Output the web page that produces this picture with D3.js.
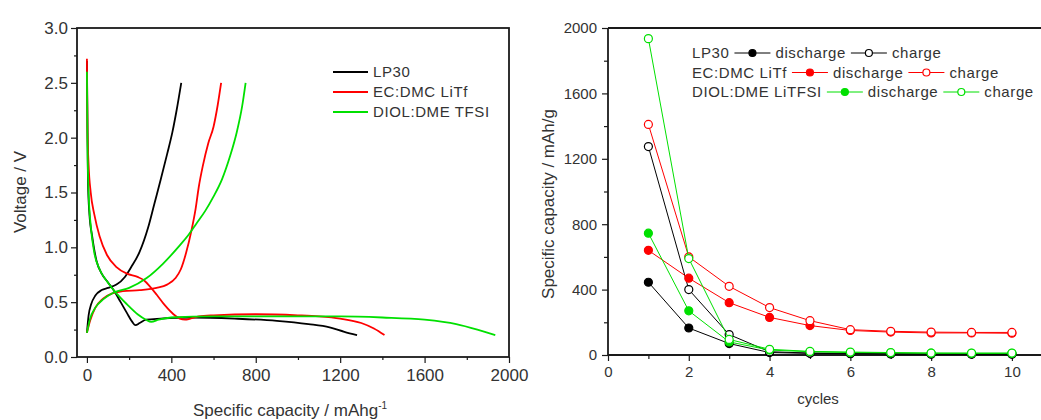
<!DOCTYPE html>
<html>
<head>
<meta charset="utf-8">
<script src="https://cdn.jsdelivr.net/npm/d3@7/dist/d3.min.js"></script>
<style>
body { margin: 0; background: #fff; }
text { font-family: "Liberation Sans", Arial, sans-serif; fill: #333; }
</style>
</head>
<body>
<svg id="chart" width="1041" height="420"></svg>
<script>
// left panel: voltage profiles [capacity mAh/g, voltage V]
var lp30Discharge = [[0,2.70],[2,2.2],[5,1.6],[12,1.3],[25,1.1],[45,0.88],[70,0.76],[100,0.68],[130,0.60],[160,0.50],[190,0.40],[215,0.32],[230,0.29],[250,0.31],[280,0.34],[350,0.35],[500,0.36],[700,0.35],[900,0.33],[1050,0.30],[1150,0.27],[1220,0.23],[1280,0.20]];
var lp30Charge = [[0,0.22],[8,0.38],[20,0.48],[40,0.56],[70,0.61],[100,0.63],[140,0.66],[180,0.73],[210,0.82],[250,0.96],[290,1.18],[320,1.40],[350,1.62],[380,1.85],[405,2.05],[425,2.25],[447,2.50]];
var ecDischarge = [[0,2.72],[3,2.05],[8,1.75],[18,1.50],[35,1.30],[60,1.10],[95,0.93],[140,0.82],[190,0.76],[240,0.73],[270,0.70],[300,0.64],[330,0.57],[370,0.47],[410,0.39],[440,0.35],[465,0.34],[490,0.35],[530,0.37],[600,0.38],[800,0.39],[1000,0.38],[1100,0.37],[1200,0.35],[1300,0.31],[1360,0.26],[1410,0.20]];
var ecCharge = [[0,0.22],[15,0.33],[40,0.45],[75,0.53],[120,0.58],[170,0.60],[250,0.61],[330,0.63],[380,0.66],[420,0.72],[445,0.80],[470,0.95],[495,1.15],[515,1.35],[530,1.55],[550,1.75],[575,1.95],[600,2.10],[620,2.30],[636,2.50]];
var diolDischarge = [[0,2.60],[3,1.90],[8,1.50],[18,1.20],[35,0.95],[60,0.80],[95,0.69],[140,0.58],[190,0.48],[240,0.39],[280,0.34],[305,0.32],[340,0.34],[400,0.36],[600,0.37],[1000,0.37],[1200,0.37],[1400,0.36],[1600,0.34],[1750,0.30],[1850,0.25],[1935,0.20]];
var diolCharge = [[0,0.22],[15,0.35],[40,0.45],[80,0.53],[130,0.59],[200,0.63],[283,0.72],[360,0.85],[441,1.02],[480,1.11],[520,1.22],[560,1.33],[599,1.46],[640,1.62],[678,1.83],[710,2.05],[735,2.28],[752,2.50]];

var leftNames = ["LP30", "EC:DMC LiTf", "DIOL:DME TFSI"];
var seriesColors = ["#000000", "#ff0000", "#00e000"];
var voltTicks = [0, 0.5, 1.0, 1.5, 2.0, 2.5, 3.0];
var capTicks = [0, 400, 800, 1200, 1600, 2000];

// right panel: capacity vs cycle
var cycles = [1, 2, 3, 4, 5, 6, 7, 8, 9, 10];
var lp30CycDischarge = [445, 165, 70, 15, 10, 8, 6, 5, 5, 5];
var lp30CycCharge = [1275, 400, 125, 20, 12, 10, 8, 7, 7, 7];
var ecCycDischarge = [640, 470, 320, 230, 180, 150, 140, 135, 135, 133];
var ecCycCharge = [1410, 600, 420, 290, 210, 155, 145, 140, 138, 138];
var diolCycDischarge = [745, 270, 80, 30, 20, 15, 13, 11, 10, 10];
var diolCycCharge = [1935, 590, 95, 35, 22, 18, 15, 12, 12, 12];
var rightNames = ["LP30", "EC:DMC LiTf", "DIOL:DME LiTFSI"];
var cycTicks = [0, 2, 4, 6, 8, 10];
var specTicks = [0, 400, 800, 1200, 1600, 2000];

var svg = d3.select("#chart");
var frameColor = "#1a1a1a";

// ---------- left panel ----------
var xL = d3.scaleLinear().domain([-47, 2000]).range([77, 509]);
var yL = d3.scaleLinear().domain([0, 3]).range([357, 28]);

var gL = svg.append("g");

function styleAxis(g, size) {
    g.select(".domain").remove();
    g.selectAll("line").attr("stroke", frameColor).attr("stroke-width", 1.2);
    g.selectAll("text").style("font-size", size + "px").attr("fill", "#333");
}

// minor ticks
gL.append("g").attr("transform", "translate(0,357)")
    .call(d3.axisBottom(xL).tickValues(d3.range(200, 2000, 400)).tickSize(3).tickFormat(""))
    .call(styleAxis, 16);
gL.append("g").attr("transform", "translate(77,0)")
    .call(d3.axisLeft(yL).tickValues(d3.range(0.25, 3, 0.5)).tickSize(3).tickFormat(""))
    .call(styleAxis, 16);
gL.append("g").attr("transform", "translate(0,357)")
    .call(d3.axisBottom(xL).tickValues(capTicks).tickSize(6).tickPadding(6).tickFormat(d3.format("d")))
    .call(styleAxis, 17);
gL.append("g").attr("transform", "translate(77,0)")
    .call(d3.axisLeft(yL).tickValues(voltTicks).tickSize(6).tickPadding(3).tickFormat(d3.format(".1f")))
    .call(styleAxis, 17);

var lineL = d3.line().x(function(d) { return xL(d[0]); }).y(function(d) { return yL(d[1]); })
    .curve(d3.curveMonotoneX);

var leftCurves = [
    [lp30Discharge, lp30Charge],
    [ecDischarge, ecCharge],
    [diolDischarge, diolCharge]
];
leftCurves.forEach(function(pair, i) {
    pair.forEach(function(pts) {
        gL.append("path").datum(pts).attr("d", lineL)
            .attr("fill", "none").attr("stroke", seriesColors[i]).attr("stroke-width", 1.8);
    });
});

gL.append("rect").attr("x", 77).attr("y", 28).attr("width", 432).attr("height", 329)
    .attr("fill", "none").attr("stroke", frameColor).attr("stroke-width", 1.8);

// left legend
leftNames.forEach(function(name, i) {
    var ly = 72 + i * 20;
    gL.append("line").attr("x1", 333).attr("x2", 368).attr("y1", ly).attr("y2", ly)
        .attr("stroke", seriesColors[i]).attr("stroke-width", 1.8);
    gL.append("text").attr("x", 373).attr("y", ly + 5).text(name)
        .style("font-size", "15px").style("letter-spacing", "0.6px");
});

gL.append("text").attr("transform", "translate(26,192) rotate(-90)")
    .attr("text-anchor", "middle").style("font-size", "17px").text("Voltage / V");
var xt = gL.append("text").attr("x", 290).attr("y", 416)
    .attr("text-anchor", "middle").style("font-size", "17px");
xt.append("tspan").text("Specific capacity / mAhg");
xt.append("tspan").attr("dy", -7).style("font-size", "10px").text("-1");

// ---------- right panel ----------
var xR = d3.scaleLinear().domain([0, 10.72]).range([608, 1041]);
var yR = d3.scaleLinear().domain([0, 2000]).range([355, 28]);
var gR = svg.append("g");

gR.append("g").attr("transform", "translate(0,355)")
    .call(d3.axisBottom(xR).tickValues(d3.range(1, 11, 2)).tickSize(4).tickFormat(""))
    .call(styleAxis, 15);
gR.append("g").attr("transform", "translate(608,0)")
    .call(d3.axisLeft(yR).tickValues(d3.range(200, 2000, 400)).tickSize(4).tickFormat(""))
    .call(styleAxis, 15);
gR.append("g").attr("transform", "translate(0,355)")
    .call(d3.axisBottom(xR).tickValues(cycTicks).tickSize(6).tickPadding(5).tickFormat(d3.format("d")))
    .call(styleAxis, 15);
gR.append("g").attr("transform", "translate(608,0)")
    .call(d3.axisLeft(yR).tickValues(specTicks).tickSize(6).tickPadding(5).tickFormat(d3.format("d")))
    .call(styleAxis, 15);

gR.append("line").attr("x1", 608).attr("x2", 1041).attr("y1", 28).attr("y2", 28)
    .attr("stroke", frameColor).attr("stroke-width", 1.8);
gR.append("line").attr("x1", 608).attr("x2", 608).attr("y1", 28).attr("y2", 355)
    .attr("stroke", frameColor).attr("stroke-width", 1.8);
gR.append("line").attr("x1", 608).attr("x2", 1041).attr("y1", 355).attr("y2", 355)
    .attr("stroke", frameColor).attr("stroke-width", 1.8);

var cycSeries = [
    [lp30CycDischarge, lp30CycCharge],
    [ecCycDischarge, ecCycCharge],
    [diolCycDischarge, diolCycCharge]
];
var lineR = d3.line().x(function(d) { return xR(d[0]); }).y(function(d) { return yR(d[1]); });

cycSeries.forEach(function(pair, i) {
    pair.forEach(function(vals, k) {
        var pts = cycles.map(function(c, j) { return [c, vals[j]]; });
        gR.append("path").datum(pts).attr("d", lineR)
            .attr("fill", "none").attr("stroke", seriesColors[i]).attr("stroke-width", 1);
        gR.selectAll(null).data(pts).enter().append("circle")
            .attr("cx", function(d) { return xR(d[0]); })
            .attr("cy", function(d) { return yR(d[1]); })
            .attr("r", 4)
            .attr("fill", k == 0 ? seriesColors[i] : "#fff")
            .attr("stroke", seriesColors[i]).attr("stroke-width", 1.2);
    });
});

// right legend
function legendSample(g, x, y, color, filled) {
    g.append("line").attr("x1", x).attr("x2", x + 36).attr("y1", y).attr("y2", y)
        .attr("stroke", color).attr("stroke-width", 1);
    g.append("circle").attr("cx", x + 18).attr("cy", y).attr("r", 3.5)
        .attr("fill", filled ? color : "#fff").attr("stroke", color).attr("stroke-width", 1.2);
}
rightNames.forEach(function(name, i) {
    var ly = 53 + i * 19.5;
    var t = gR.append("text").attr("x", 692).attr("y", ly + 5).text(name)
        .style("font-size", "15px").style("letter-spacing", "0.6px");
    var cx = 692 + t.node().getComputedTextLength() + 5;
    legendSample(gR, cx, ly, seriesColors[i], true);
    var t2 = gR.append("text").attr("x", cx + 41).attr("y", ly + 5).text("discharge")
        .style("font-size", "15px").style("letter-spacing", "0.6px");
    cx = cx + 41 + t2.node().getComputedTextLength() + 5;
    legendSample(gR, cx, ly, seriesColors[i], false);
    gR.append("text").attr("x", cx + 41).attr("y", ly + 5).text("charge")
        .style("font-size", "15px").style("letter-spacing", "0.6px");
});

gR.append("text").attr("transform", "translate(554,204) rotate(-90)")
    .attr("text-anchor", "middle").style("font-size", "17px").text("Specific capacity / mAh/g");
gR.append("text").attr("x", 818).attr("y", 404)
    .attr("text-anchor", "middle").style("font-size", "15px").text("cycles");
</script>
</body>
</html>
